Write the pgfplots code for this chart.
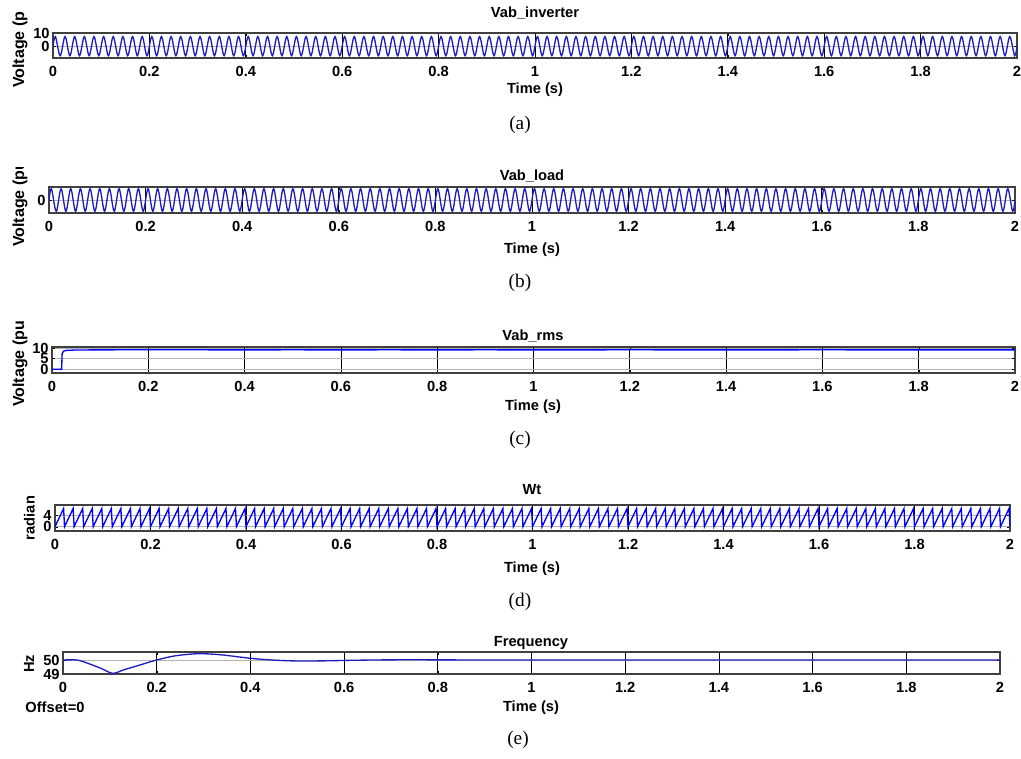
\documentclass[border=0pt]{standalone}
\usepackage{pgfplots}
\pgfplotsset{compat=1.18}
\usepackage{pgfplotstable}
\usepackage{fontspec}
\setmainfont{Liberation Sans}
\newfontfamily\capfont{Liberation Serif}
\newcommand\lab{\fontsize{11}{13}\selectfont\bfseries}
\newcommand\ylab{\fontsize{12}{14}\selectfont\bfseries}
\newcommand\caplab{\capfont\fontsize{14.5}{16}\selectfont}
\definecolor{scopeblue}{RGB}{30,30,190}

% sine waves: peaks and troughs of the 50 Hz voltages (inverter, load)
\pgfplotstableread[row sep=\\]{
t a b\\
0 0 0\\
0.005 7.5 1\\ 0.015 -7.5 -1\\ 0.025 7.5 1\\ 0.035 -7.5 -1\\ 0.045 7.5 1\\ 0.055 -7.5 -1\\ 0.065 7.5 1\\ 0.075 -7.5 -1\\ 0.085 7.5 1\\ 0.095 -7.5 -1\\
0.105 7.5 1\\ 0.115 -7.5 -1\\ 0.125 7.5 1\\ 0.135 -7.5 -1\\ 0.145 7.5 1\\ 0.155 -7.5 -1\\ 0.165 7.5 1\\ 0.175 -7.5 -1\\ 0.185 7.5 1\\ 0.195 -7.5 -1\\
0.205 7.5 1\\ 0.215 -7.5 -1\\ 0.225 7.5 1\\ 0.235 -7.5 -1\\ 0.245 7.5 1\\ 0.255 -7.5 -1\\ 0.265 7.5 1\\ 0.275 -7.5 -1\\ 0.285 7.5 1\\ 0.295 -7.5 -1\\
0.305 7.5 1\\ 0.315 -7.5 -1\\ 0.325 7.5 1\\ 0.335 -7.5 -1\\ 0.345 7.5 1\\ 0.355 -7.5 -1\\ 0.365 7.5 1\\ 0.375 -7.5 -1\\ 0.385 7.5 1\\ 0.395 -7.5 -1\\
0.405 7.5 1\\ 0.415 -7.5 -1\\ 0.425 7.5 1\\ 0.435 -7.5 -1\\ 0.445 7.5 1\\ 0.455 -7.5 -1\\ 0.465 7.5 1\\ 0.475 -7.5 -1\\ 0.485 7.5 1\\ 0.495 -7.5 -1\\
0.505 7.5 1\\ 0.515 -7.5 -1\\ 0.525 7.5 1\\ 0.535 -7.5 -1\\ 0.545 7.5 1\\ 0.555 -7.5 -1\\ 0.565 7.5 1\\ 0.575 -7.5 -1\\ 0.585 7.5 1\\ 0.595 -7.5 -1\\
0.605 7.5 1\\ 0.615 -7.5 -1\\ 0.625 7.5 1\\ 0.635 -7.5 -1\\ 0.645 7.5 1\\ 0.655 -7.5 -1\\ 0.665 7.5 1\\ 0.675 -7.5 -1\\ 0.685 7.5 1\\ 0.695 -7.5 -1\\
0.705 7.5 1\\ 0.715 -7.5 -1\\ 0.725 7.5 1\\ 0.735 -7.5 -1\\ 0.745 7.5 1\\ 0.755 -7.5 -1\\ 0.765 7.5 1\\ 0.775 -7.5 -1\\ 0.785 7.5 1\\ 0.795 -7.5 -1\\
0.805 7.5 1\\ 0.815 -7.5 -1\\ 0.825 7.5 1\\ 0.835 -7.5 -1\\ 0.845 7.5 1\\ 0.855 -7.5 -1\\ 0.865 7.5 1\\ 0.875 -7.5 -1\\ 0.885 7.5 1\\ 0.895 -7.5 -1\\
0.905 7.5 1\\ 0.915 -7.5 -1\\ 0.925 7.5 1\\ 0.935 -7.5 -1\\ 0.945 7.5 1\\ 0.955 -7.5 -1\\ 0.965 7.5 1\\ 0.975 -7.5 -1\\ 0.985 7.5 1\\ 0.995 -7.5 -1\\
1.005 7.5 1\\ 1.015 -7.5 -1\\ 1.025 7.5 1\\ 1.035 -7.5 -1\\ 1.045 7.5 1\\ 1.055 -7.5 -1\\ 1.065 7.5 1\\ 1.075 -7.5 -1\\ 1.085 7.5 1\\ 1.095 -7.5 -1\\
1.105 7.5 1\\ 1.115 -7.5 -1\\ 1.125 7.5 1\\ 1.135 -7.5 -1\\ 1.145 7.5 1\\ 1.155 -7.5 -1\\ 1.165 7.5 1\\ 1.175 -7.5 -1\\ 1.185 7.5 1\\ 1.195 -7.5 -1\\
1.205 7.5 1\\ 1.215 -7.5 -1\\ 1.225 7.5 1\\ 1.235 -7.5 -1\\ 1.245 7.5 1\\ 1.255 -7.5 -1\\ 1.265 7.5 1\\ 1.275 -7.5 -1\\ 1.285 7.5 1\\ 1.295 -7.5 -1\\
1.305 7.5 1\\ 1.315 -7.5 -1\\ 1.325 7.5 1\\ 1.335 -7.5 -1\\ 1.345 7.5 1\\ 1.355 -7.5 -1\\ 1.365 7.5 1\\ 1.375 -7.5 -1\\ 1.385 7.5 1\\ 1.395 -7.5 -1\\
1.405 7.5 1\\ 1.415 -7.5 -1\\ 1.425 7.5 1\\ 1.435 -7.5 -1\\ 1.445 7.5 1\\ 1.455 -7.5 -1\\ 1.465 7.5 1\\ 1.475 -7.5 -1\\ 1.485 7.5 1\\ 1.495 -7.5 -1\\
1.505 7.5 1\\ 1.515 -7.5 -1\\ 1.525 7.5 1\\ 1.535 -7.5 -1\\ 1.545 7.5 1\\ 1.555 -7.5 -1\\ 1.565 7.5 1\\ 1.575 -7.5 -1\\ 1.585 7.5 1\\ 1.595 -7.5 -1\\
1.605 7.5 1\\ 1.615 -7.5 -1\\ 1.625 7.5 1\\ 1.635 -7.5 -1\\ 1.645 7.5 1\\ 1.655 -7.5 -1\\ 1.665 7.5 1\\ 1.675 -7.5 -1\\ 1.685 7.5 1\\ 1.695 -7.5 -1\\
1.705 7.5 1\\ 1.715 -7.5 -1\\ 1.725 7.5 1\\ 1.735 -7.5 -1\\ 1.745 7.5 1\\ 1.755 -7.5 -1\\ 1.765 7.5 1\\ 1.775 -7.5 -1\\ 1.785 7.5 1\\ 1.795 -7.5 -1\\
1.805 7.5 1\\ 1.815 -7.5 -1\\ 1.825 7.5 1\\ 1.835 -7.5 -1\\ 1.845 7.5 1\\ 1.855 -7.5 -1\\ 1.865 7.5 1\\ 1.875 -7.5 -1\\ 1.885 7.5 1\\ 1.895 -7.5 -1\\
1.905 7.5 1\\ 1.915 -7.5 -1\\ 1.925 7.5 1\\ 1.935 -7.5 -1\\ 1.945 7.5 1\\ 1.955 -7.5 -1\\ 1.965 7.5 1\\ 1.975 -7.5 -1\\ 1.985 7.5 1\\ 1.995 -7.5 -1\\
2 0 0\\
}\sinetab

% phase angle wt: sawtooth 0..2pi each 20 ms
\pgfplotstableread[row sep=\\]{
t w\\
0 0\\ 0.018 6.28\\ 0.02 0\\ 0.038 6.28\\ 0.04 0\\ 0.058 6.28\\ 0.06 0\\ 0.078 6.28\\ 0.08 0\\ 0.098 6.28\\
0.1 0\\ 0.118 6.28\\ 0.12 0\\ 0.138 6.28\\ 0.14 0\\ 0.158 6.28\\ 0.16 0\\ 0.178 6.28\\ 0.18 0\\ 0.198 6.28\\
0.2 0\\ 0.218 6.28\\ 0.22 0\\ 0.238 6.28\\ 0.24 0\\ 0.258 6.28\\ 0.26 0\\ 0.278 6.28\\ 0.28 0\\ 0.298 6.28\\
0.3 0\\ 0.318 6.28\\ 0.32 0\\ 0.338 6.28\\ 0.34 0\\ 0.358 6.28\\ 0.36 0\\ 0.378 6.28\\ 0.38 0\\ 0.398 6.28\\
0.4 0\\ 0.418 6.28\\ 0.42 0\\ 0.438 6.28\\ 0.44 0\\ 0.458 6.28\\ 0.46 0\\ 0.478 6.28\\ 0.48 0\\ 0.498 6.28\\
0.5 0\\ 0.518 6.28\\ 0.52 0\\ 0.538 6.28\\ 0.54 0\\ 0.558 6.28\\ 0.56 0\\ 0.578 6.28\\ 0.58 0\\ 0.598 6.28\\
0.6 0\\ 0.618 6.28\\ 0.62 0\\ 0.638 6.28\\ 0.64 0\\ 0.658 6.28\\ 0.66 0\\ 0.678 6.28\\ 0.68 0\\ 0.698 6.28\\
0.7 0\\ 0.718 6.28\\ 0.72 0\\ 0.738 6.28\\ 0.74 0\\ 0.758 6.28\\ 0.76 0\\ 0.778 6.28\\ 0.78 0\\ 0.798 6.28\\
0.8 0\\ 0.818 6.28\\ 0.82 0\\ 0.838 6.28\\ 0.84 0\\ 0.858 6.28\\ 0.86 0\\ 0.878 6.28\\ 0.88 0\\ 0.898 6.28\\
0.9 0\\ 0.918 6.28\\ 0.92 0\\ 0.938 6.28\\ 0.94 0\\ 0.958 6.28\\ 0.96 0\\ 0.978 6.28\\ 0.98 0\\ 0.998 6.28\\
1.0 0\\ 1.018 6.28\\ 1.02 0\\ 1.038 6.28\\ 1.04 0\\ 1.058 6.28\\ 1.06 0\\ 1.078 6.28\\ 1.08 0\\ 1.098 6.28\\
1.1 0\\ 1.118 6.28\\ 1.12 0\\ 1.138 6.28\\ 1.14 0\\ 1.158 6.28\\ 1.16 0\\ 1.178 6.28\\ 1.18 0\\ 1.198 6.28\\
1.2 0\\ 1.218 6.28\\ 1.22 0\\ 1.238 6.28\\ 1.24 0\\ 1.258 6.28\\ 1.26 0\\ 1.278 6.28\\ 1.28 0\\ 1.298 6.28\\
1.3 0\\ 1.318 6.28\\ 1.32 0\\ 1.338 6.28\\ 1.34 0\\ 1.358 6.28\\ 1.36 0\\ 1.378 6.28\\ 1.38 0\\ 1.398 6.28\\
1.4 0\\ 1.418 6.28\\ 1.42 0\\ 1.438 6.28\\ 1.44 0\\ 1.458 6.28\\ 1.46 0\\ 1.478 6.28\\ 1.48 0\\ 1.498 6.28\\
1.5 0\\ 1.518 6.28\\ 1.52 0\\ 1.538 6.28\\ 1.54 0\\ 1.558 6.28\\ 1.56 0\\ 1.578 6.28\\ 1.58 0\\ 1.598 6.28\\
1.6 0\\ 1.618 6.28\\ 1.62 0\\ 1.638 6.28\\ 1.64 0\\ 1.658 6.28\\ 1.66 0\\ 1.678 6.28\\ 1.68 0\\ 1.698 6.28\\
1.7 0\\ 1.718 6.28\\ 1.72 0\\ 1.738 6.28\\ 1.74 0\\ 1.758 6.28\\ 1.76 0\\ 1.778 6.28\\ 1.78 0\\ 1.798 6.28\\
1.8 0\\ 1.818 6.28\\ 1.82 0\\ 1.838 6.28\\ 1.84 0\\ 1.858 6.28\\ 1.86 0\\ 1.878 6.28\\ 1.88 0\\ 1.898 6.28\\
1.9 0\\ 1.918 6.28\\ 1.92 0\\ 1.938 6.28\\ 1.94 0\\ 1.958 6.28\\ 1.96 0\\ 1.978 6.28\\ 1.98 0\\ 1.998 6.28\\
2 0\\
}\wttab

\pgfplotsset{
  scopeax/.style={
    scale only axis, anchor=south west,
    xmin=0, xmax=2,
    xtick={0,0.2,0.4,0.6,0.8,1,1.2,1.4,1.6,1.8,2},
    xmajorgrids, ymajorgrids,
    x grid style={black, line width=0.6pt},
    y grid style={black!30, line width=0.6pt},
    axis line style={black!75, line width=0.9pt},
    major tick length=2.5pt,
    tick style={black},
    /pgf/number format/assume math mode=true,
    tick label style={font=\lab},
    xticklabel style={yshift=-3pt},
    yticklabel style={xshift=1pt},
    no markers,
    every axis plot/.append style={scopeblue, line width=1pt},
  },
}

\begin{document}
\begin{tikzpicture}

% (a) Vab_inverter
\begin{axis}[scopeax, at={(39.75pt,525pt)}, width=723pt, height=18.75pt,
    ymin=-9.3, ymax=10.3, ytick={0,10}]
  \addplot[smooth, tension=0.55] table[x=t, y=a] {\sinetab};
\end{axis}
\node[font=\lab] at (401.25pt,558.75pt) {Vab\_inverter};
\node[font=\lab] at (401.25pt,501pt) {Time (s)};
\begin{scope}
  \clip (0pt,490pt) rectangle (40pt,559.5pt);
  \node[rotate=90, anchor=west, font=\ylab, inner sep=0pt] at (15pt,502.5pt) {Voltage (pu)};
\end{scope}
\node[font=\caplab] at (390pt,474.75pt) {(a)};

% (b) Vab_load
\begin{axis}[scopeax, at={(36.75pt,408.75pt)}, width=724.5pt, height=19.5pt,
    ymin=-1.15, ymax=1.15, ytick={0}]
  \addplot[smooth, tension=0.55] table[x=t, y=b] {\sinetab};
\end{axis}
\node[font=\lab] at (399pt,436.5pt) {Vab\_load};
\node[font=\lab] at (399pt,381pt) {Time (s)};
\begin{scope}
  \clip (0pt,370pt) rectangle (40pt,442.5pt);
  \node[rotate=90, anchor=west, font=\ylab, inner sep=0pt] at (15pt,383.25pt) {Voltage (pu)};
\end{scope}
\node[font=\caplab] at (390pt,356.25pt) {(b)};

% (c) Vab_rms
\begin{axis}[scopeax, at={(39pt,288.75pt)}, width=722.25pt, height=19.5pt,
    ymin=-1.8, ymax=10.45, ytick={0,5,10}]
  \addplot coordinates {
    (0,0) (0.02,0) (0.021,7.2) (0.024,8.5) (0.03,8.85) (0.05,9.05) (0.1,9.1)
    (0.2,9.15) (0.3,9.12) (0.4,9.1) (0.5,9.12) (0.6,9.1) (0.7,9.12) (0.8,9.1)
    (0.9,9.12) (1.0,9.1) (1.2,9.12) (1.4,9.1) (1.6,9.12) (1.8,9.1) (2,9.1)
  };
\end{axis}
\node[font=\lab] at (399.75pt,316.5pt) {Vab\_rms};
\node[font=\lab] at (399.75pt,263.25pt) {Time (s)};
\begin{scope}
  \clip (0pt,250pt) rectangle (40pt,327pt);
  \node[rotate=90, anchor=west, font=\ylab, inner sep=0pt] at (15pt,263.25pt) {Voltage (pu)};
\end{scope}
\node[font=\caplab] at (390pt,238.5pt) {(c)};

% (d) Wt
\begin{axis}[scopeax, at={(41.25pt,170.25pt)}, width=716.25pt, height=19.5pt,
    ymin=-1.5, ymax=7.5, ytick={0,4}]
  \addplot table[x=t, y=w] {\wttab};
\end{axis}
\node[font=\lab] at (399pt,201pt) {Wt};
\node[font=\lab] at (399pt,142pt) {Time (s)};
\node[rotate=90, font=\lab] at (22pt,180pt) {radian};
\node[font=\caplab] at (390pt,117pt) {(d)};

% (e) Frequency
\begin{axis}[scopeax, at={(47.25pt,63pt)}, width=702.75pt, height=16.5pt,
    ymin=49, ymax=50.57, ytick={49,50}]
  \addplot[smooth, tension=0.5] coordinates {
    (0,50) (0.03,50) (0.05,49.8) (0.08,49.42) (0.106,49.05) (0.13,49.3)
    (0.165,49.65) (0.2,50) (0.24,50.3) (0.29,50.45) (0.34,50.36) (0.4,50.12)
    (0.45,49.99) (0.5,49.93) (0.56,49.94) (0.62,49.98) (0.7,50.01) (0.8,50.01)
    (0.9,50) (1.2,50) (1.6,50) (2,50)
  };
\end{axis}
\node[font=\lab] at (398.25pt,86.25pt) {Frequency};
\node[font=\lab] at (398.25pt,38pt) {Time (s)};
\node[font=\lab] at (41.25pt,38pt) {Offset=0};
\node[rotate=90, font=\lab] at (21.75pt,70.5pt) {Hz};
\node[font=\caplab] at (388.5pt,13.5pt) {(e)};

\pgfresetboundingbox
\path[use as bounding box] (0pt,0pt) rectangle (765.75pt,568.5pt);
\end{tikzpicture}
\end{document}
